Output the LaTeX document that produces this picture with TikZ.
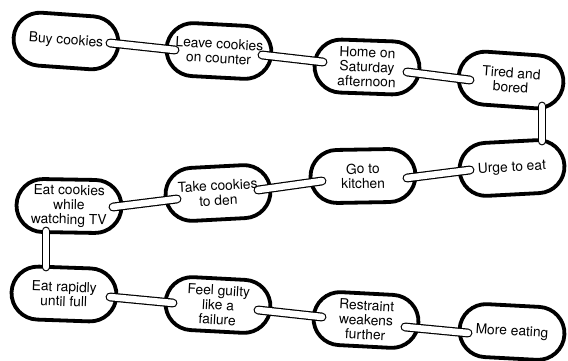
\documentclass[tikz,border=0pt]{standalone}
\usepackage{fontspec}
\setmainfont{TeX Gyre Heros}
\usetikzlibrary{shapes.misc,calc}
\begin{document}
\begin{tikzpicture}[x=1pt,y=-1pt,
  link/.style={rounded rectangle, draw=black, line width=3.8pt, fill=white,
    minimum width=109pt, minimum height=53pt, inner sep=2pt, align=center,
    font=\fontsize{13.8}{14.6}\selectfont},
  bar/.style={draw=black, line width=1.2pt, double=white, double distance=6.5pt, line cap=round}]
\useasboundingbox (0,0) rectangle (568,361);
\node[link, rotate=-4] (buy) at (66,41) {Buy cookies};
\node[link, rotate=-3] (leave) at (219,51) {Leave cookies\\on counter};
\node[link, rotate=-2] (home) at (367,67) {Home on\\Saturday\\afternoon};
\node[link, rotate=-4] (tired) at (511,80) {Tired and\\bored};
\node[link, rotate=3] (urge) at (512,168) {Urge to eat};
\node[link, rotate=1] (go) at (363,176) {Go to\\kitchen};
\node[link, rotate=3] (take) at (218,193) {Take cookies\\to den};
\node[link, rotate=-1] (tv) at (69,206) {Eat cookies\\while\\watching TV};
\node[link, rotate=-2] (rapid) at (64,294) {Eat rapidly\\until full};
\node[link, rotate=-3] (guilty) at (218,305) {Feel guilty\\like a\\failure};
\node[link, rotate=-3] (restraint) at (366,320) {Restraint\\weakens\\further};
\node[link, rotate=-3] (more) at (512,332) {More eating};
\draw[bar] ($(buy)+(44,2)$) -- ($(leave)+(-44,-1)$);
\draw[bar] ($(leave)+(43,4)$) -- ($(home)+(-44,-5)$);
\draw[bar] ($(home)+(40,5)$) -- ($(tired)+(-41,0)$);
\draw[bar] ($(tired)+(31,26)$) -- ($(urge)+(30,-27)$);
\draw[bar] ($(urge)+(-42,2)$) -- ($(go)+(44,2)$);
\draw[bar] ($(go)+(-41,5)$) -- ($(take)+(40,-3)$);
\draw[bar] ($(take)+(-41,6)$) -- ($(tv)+(44,1)$);
\draw[bar] ($(tv)+(-23,25)$) -- ($(rapid)+(-18,-27)$);
\draw[bar] ($(rapid)+(46,3)$) -- ($(guilty)+(-45,-2)$);
\draw[bar] ($(guilty)+(40,5)$) -- ($(restraint)+(-44,-3)$);
\draw[bar] ($(restraint)+(39,7)$) -- ($(more)+(-44,1)$);
\end{tikzpicture}
\end{document}
